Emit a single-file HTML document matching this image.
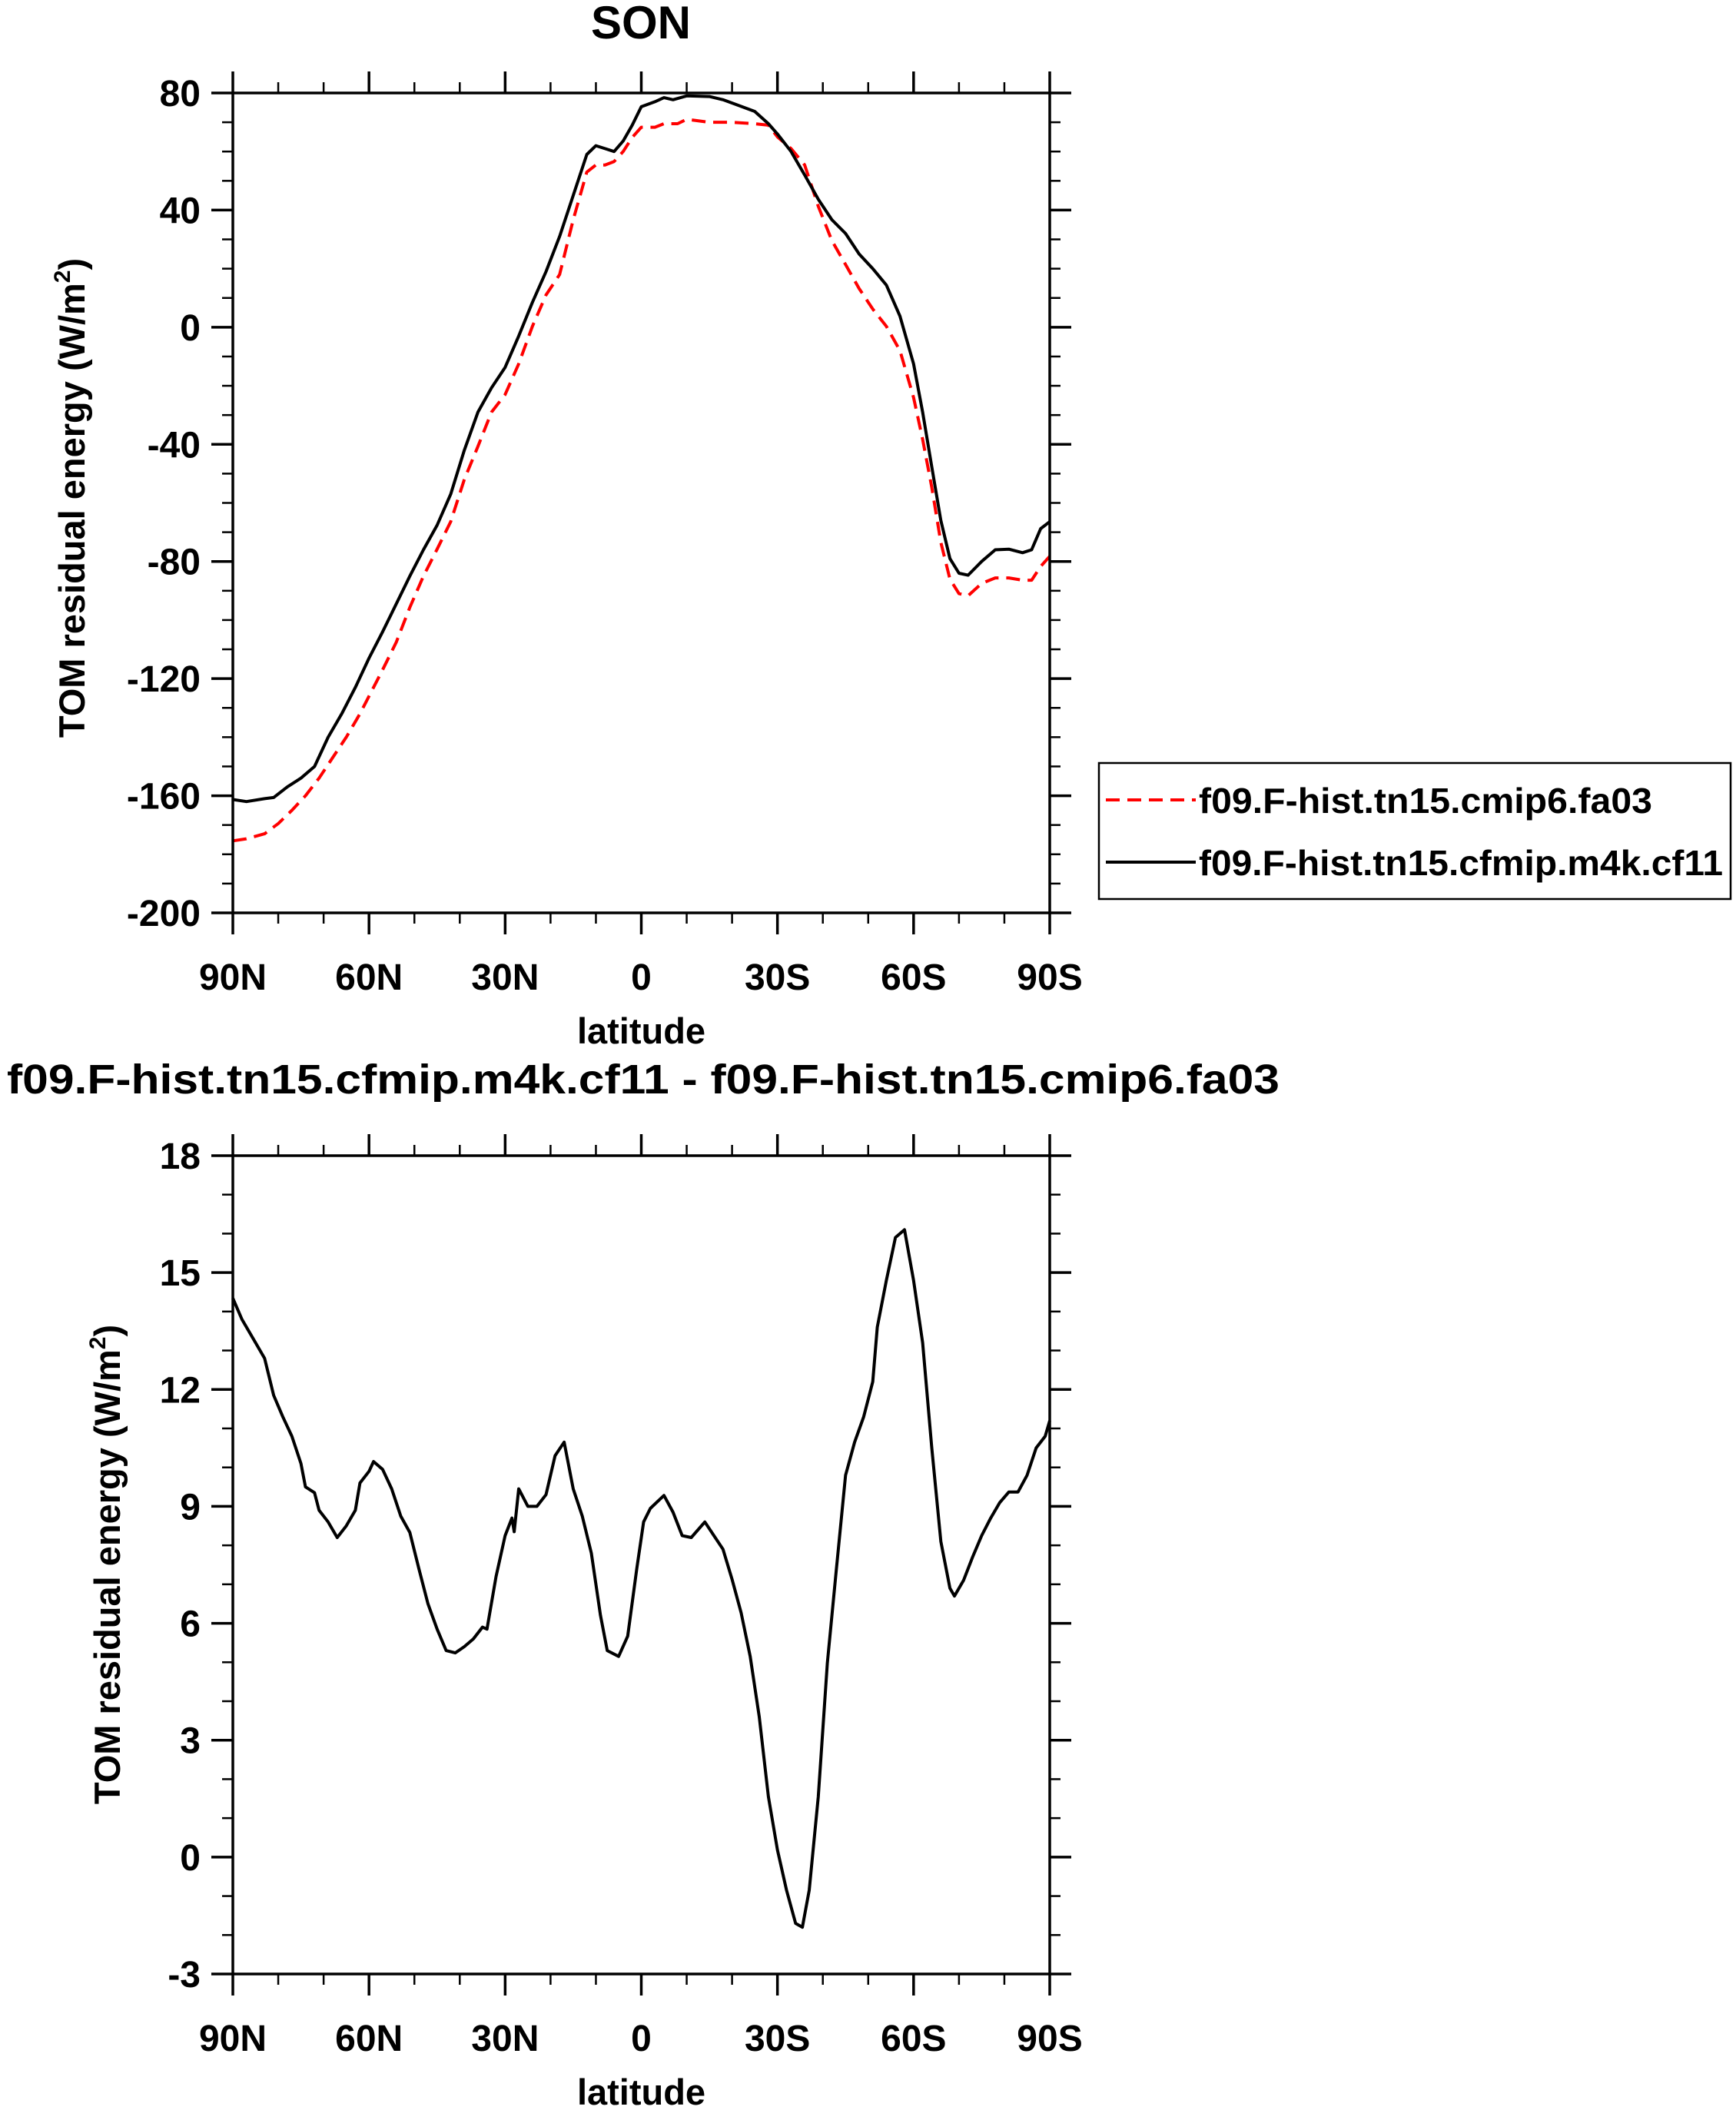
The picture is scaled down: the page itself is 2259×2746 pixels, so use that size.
<!DOCTYPE html>
<html><head><meta charset="utf-8"><style>
html,body{margin:0;padding:0;background:#fff}
svg{display:block}
text{font-family:"Liberation Sans",sans-serif;font-weight:bold;fill:#000}
</style></head><body>
<svg id="c" width="2259" height="2746" viewBox="0 0 2259 2746" xmlns="http://www.w3.org/2000/svg">
<text x="834" y="50" font-size="60" text-anchor="middle">SON</text>
<text x="837" y="1423" font-size="54" text-anchor="middle" textLength="1656" lengthAdjust="spacingAndGlyphs">f09.F-hist.tn15.cfmip.m4k.cf11 - f09.F-hist.tn15.cmip6.fa03</text>
<text transform="translate(110,648) rotate(-90)" font-size="47" text-anchor="middle">TOM residual energy (W/m<tspan font-size="30" dy="-19">2</tspan><tspan dy="19">)</tspan></text>
<text transform="translate(156,2036) rotate(-90)" font-size="47" text-anchor="middle">TOM residual energy (W/m<tspan font-size="30" dy="-19">2</tspan><tspan dy="19">)</tspan></text>
<g>
<rect x="1430" y="993" width="822" height="177" fill="none" stroke="#000" stroke-width="2.5"/>
<line x1="1439" y1="1041" x2="1556" y2="1041" stroke="#f00" stroke-width="4" stroke-dasharray="18,10"/>
<text x="1560" y="1058" font-size="46" textLength="590" lengthAdjust="spacingAndGlyphs">f09.F-hist.tn15.cmip6.fa03</text>
<line x1="1439" y1="1122" x2="1556" y2="1122" stroke="#000" stroke-width="4"/>
<text x="1560" y="1139" font-size="46" textLength="682" lengthAdjust="spacingAndGlyphs">f09.F-hist.tn15.cfmip.m4k.cf11</text>
</g>
</svg>
<script>
const latBlack=[90,87,83,81,78,75,72,69,66,63,60,57,54,51,48,45,42,39,36,33,30,27,24,21,18,15,12,10,8,6,4,2,0,-3,-5,-7,-10,-15,-18,-21,-25,-28,-30,-33,-36,-39,-42,-45,-48,-51,-54,-57,-60,-62,-64,-66,-68,-70,-72,-75,-78,-81,-84,-86,-88,-90];
const cf11=[-161.3,-162,-161,-160.6,-157,-154,-150,-140,-132,-123,-113,-104,-94.5,-85,-76,-67.6,-57,-42,-29,-20.7,-13.7,-3,8.5,19,31,45,59,62,61,60,63.6,69,75.3,77,78.4,77.7,79,78.8,77.7,76,73.7,69.5,66,60,52,43.7,36.7,32,25,20,14.4,3.8,-12.5,-29,-47.7,-66,-79,-84,-84.7,-80,-76,-75.8,-77,-76,-68.8,-66.4];
const latRed=[90,87,83,80,77,74,71,68,65,62,60,57,54,51,48,45,42,39,36,33,30,27,24,21,18,15,12,10,8,6,4,2,0,-3,-5,-8,-10,-15,-20,-25,-28,-30,-33,-36,-39,-42,-45,-48,-51,-54,-57,-60,-62,-64,-66,-68,-70,-72,-75,-78,-81,-84,-86,-88,-90];
const fa03=[-175.4,-174.7,-173,-169.5,-165,-160,-154,-147,-140,-132,-126,-117,-107.6,-95.7,-85,-75.8,-66.4,-52,-40.7,-29,-23,-12.5,0.3,11,18,36.7,53,55.4,55.4,56.6,60,64.8,68.3,68.3,69.5,69.5,71,70,70,69.5,69,65,61,55.4,41.3,29.6,21.4,13.2,6.2,0.3,-8,-24,-38.3,-54.7,-73.5,-86,-91,-91.7,-87.5,-85.6,-85.6,-86.4,-86.4,-81.7,-78.2];
const latDiff=[90,88,85,83,81,79,77,75,74,72,71,69,67,65,63,62,60,59,57,55,53,51,49,47,45,43,41,39,37,35,34,32,30,28.5,28,27,25,23,21,19,17,15,13,11,9,7.5,5,3,1,-0.5,-2,-5,-7,-9,-11,-14,-16,-18,-20,-22,-24,-26,-28,-30,-32,-34,-35.5,-37,-39,-41,-43,-45,-47,-49,-51,-52,-54,-56,-58,-60,-62,-64,-66,-68,-69,-71,-73,-75,-77,-79,-81,-83,-85,-87,-89,-90];
const diff=[14.34,13.8,13.2,12.8,11.85,11.3,10.8,10.1,9.5,9.35,8.9,8.6,8.2,8.5,8.9,9.6,9.9,10.15,9.95,9.45,8.75,8.33,7.4,6.5,5.85,5.3,5.24,5.4,5.6,5.9,5.85,7.2,8.25,8.7,8.35,9.45,9.0,9.0,9.3,10.3,10.65,9.45,8.75,7.8,6.2,5.3,5.15,5.67,7.4,8.6,8.95,9.28,8.85,8.25,8.2,8.6,8.25,7.9,7.13,6.27,5.15,3.6,1.55,0.18,-0.85,-1.7,-1.8,-0.85,1.55,4.98,7.4,9.8,10.65,11.3,12.2,13.6,14.8,15.9,16.1,14.8,13.2,10.5,8.1,6.9,6.7,7.1,7.7,8.25,8.7,9.1,9.37,9.37,9.8,10.5,10.8,11.2];
const xTickVals=[90,60,30,0,-30,-60,-90];
const xTickLabels=["90N","60N","30N","0","30S","60S","90S"];
const yTopTicks=[80,40,0,-40,-80,-120,-160,-200];
const yBotTicks=[18,15,12,9,6,3,0,-3];

const NS="http://www.w3.org/2000/svg";
const svg=document.getElementById('c');
const X0=303,X1=1366;
function xs(lat){return X0+(90-lat)/180*(X1-X0);}
function mk(tag,attrs,parent){const e=document.createElementNS(NS,tag);for(const k in attrs)e.setAttribute(k,attrs[k]);(parent||svg).appendChild(e);return e;}

function panel(name,T,B,ymin,ymax,yticks,minorStep,series){
  const g=mk('g',{});
  
  
  const ys=v=>B-(v-ymin)/(ymax-ymin)*(B-T);
  for(let v=ymin;v<=ymax+1e-9;v+=minorStep){
    const y=ys(v);
    const t1=mk('line',{x1:X0-14,y1:y,x2:X0,y2:y,stroke:'#000','stroke-width':2.5},g);
    
    
    const t2=mk('line',{x1:X1,y1:y,x2:X1+14,y2:y,stroke:'#000','stroke-width':2.5},g);
    
    
  }
  yticks.forEach(v=>{
    const y=ys(v);
    const a=mk('line',{x1:X0-28,y1:y,x2:X0,y2:y,stroke:'#000','stroke-width':3.5},g);
    
    
    const b=mk('line',{x1:X1,y1:y,x2:X1+28,y2:y,stroke:'#000','stroke-width':3.5},g);
    
    
    const t=mk('text',{x:X0-42,y:y+17,'font-size':48,'text-anchor':'end'},g);
    
    
    t.textContent=String(v);
  });
  for(let lat=90;lat>=-90;lat-=10){
    const x=xs(lat);
    const a=mk('line',{x1:x,y1:B,x2:x,y2:B+14,stroke:'#000','stroke-width':2.5},g);
    
    
    const b=mk('line',{x1:x,y1:T-14,x2:x,y2:T,stroke:'#000','stroke-width':2.5},g);
    
    
  }
  xTickVals.forEach((lat,i)=>{
    const x=xs(lat);
    const a=mk('line',{x1:x,y1:B,x2:x,y2:B+28,stroke:'#000','stroke-width':3.5},g);
    
    
    const b=mk('line',{x1:x,y1:T-28,x2:x,y2:T,stroke:'#000','stroke-width':3.5},g);
    
    
    const t=mk('text',{x:x,y:B+100,'font-size':48,'text-anchor':'middle'},g);
    
    
    t.textContent=xTickLabels[i];
  });
  const xt=mk('text',{x:(X0+X1)/2,y:B+170,'font-size':47,'text-anchor':'middle'},g);
  
  
  xt.textContent='latitude';
  series.forEach(s=>{
    const d=s.lat.map((l,i)=>(i?'L':'M')+xs(l).toFixed(1)+','+ys(s.v[i]).toFixed(1)).join(' ');
    const p=mk('path',{d:d,fill:'none',stroke:s.color,'stroke-width':4,'stroke-linejoin':'round','stroke-dasharray':s.dash||'none'},g);
    
    
  });
  const fr=mk('rect',{x:X0,y:T,width:X1-X0,height:B-T,fill:'none',stroke:'#000','stroke-width':3.5},g);
  
  
}
panel('top',121,1188,-200,80,yTopTicks,10,[
  {lat:latRed,v:fa03,color:'#f00',dash:'18,10',name:'line-fa03'},
  {lat:latBlack,v:cf11,color:'#000',name:'line-cf11'}]);
panel('bottom',1504,2569,-3,18,yBotTicks,1,[
  {lat:latDiff,v:diff,color:'#000',name:'line-difference'}]);
</script>
</body></html>
